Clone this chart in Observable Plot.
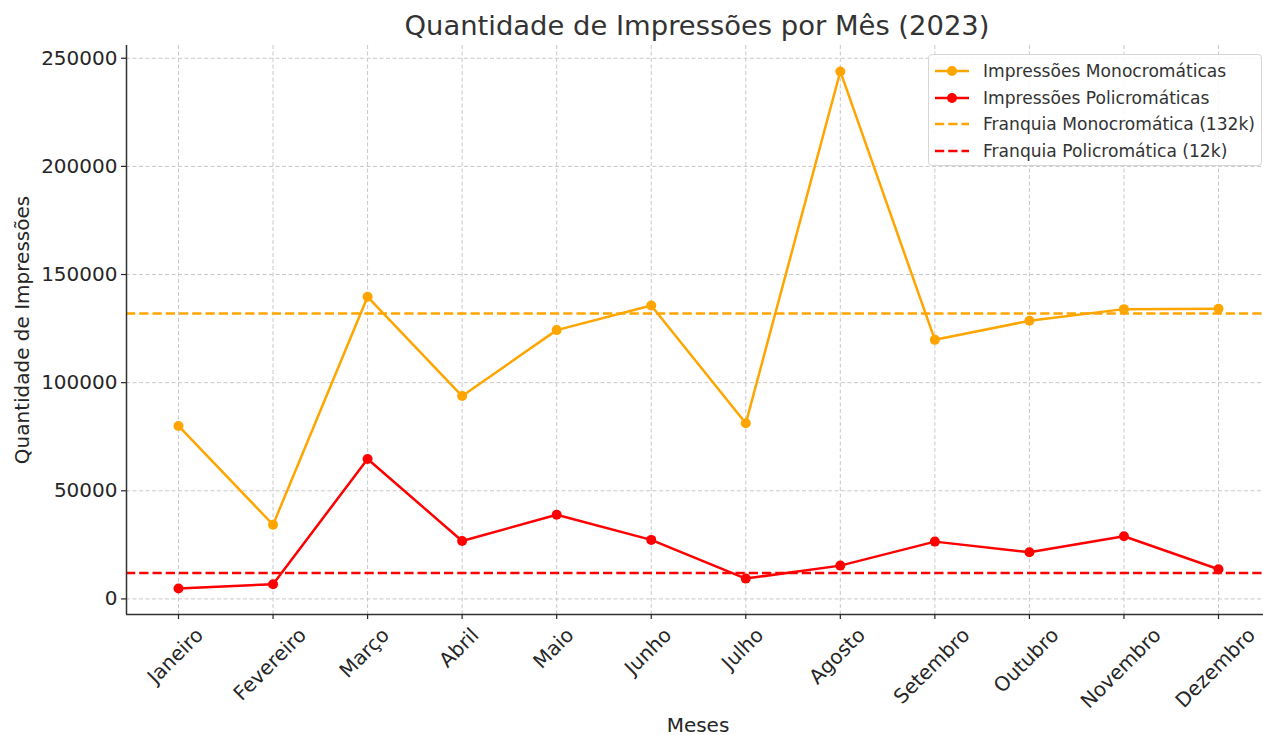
<!DOCTYPE html>
<html>
<head>
<meta charset="utf-8">
<script src="https://cdn.jsdelivr.net/npm/d3@7"></script>
<script src="https://cdn.jsdelivr.net/npm/@observablehq/plot@0.6"></script>
<style>
  html, body { margin: 0; padding: 0; background: white; overflow: hidden; }
  #wrap { position: relative; width: 1263px; height: 735px; font-family: "DejaVu Sans", sans-serif; }
  #title { position: absolute; left: 126px; width: 1142px; top: 8px; line-height: 36px; text-align: center; font-size: 27.4px; color: #333; }
  #chart { position: absolute; left: 0; top: 45px; }
  #legend { position: absolute; left: 928px; top: 54px; width: 332px; height: 110px; border: 1px solid #d6d6d6; border-radius: 4px; background: rgba(255,255,255,0.85); z-index: 2; }
  .row { position: absolute; left: 6px; height: 26px; display: flex; align-items: center; }
  .row span { margin-left: 14px; font-size: 17.1px; color: #333; white-space: nowrap; }
</style>
</head>
<body>
<div id="wrap">
  <div id="title"></div>
  <div id="chart"></div>
  <div id="legend"></div>
</div>
<script>
const titleText = "Quantidade de Impressões por Mês (2023)";
const months = ["Janeiro","Fevereiro","Março","Abril","Maio","Junho","Julho","Agosto","Setembro","Outubro","Novembro","Dezembro"];
const mono = [80000, 34300, 139700, 93800, 124300, 135700, 81200, 243900, 119800, 128600, 134000, 134200];
const poly = [4800, 6800, 64700, 26800, 38900, 27300, 9400, 15400, 26500, 21600, 29000, 13700];
const franquiaMono = 132000;
const franquiaPoly = 12000;
const yTicks = [0, 50000, 100000, 150000, 200000, 250000];
const seriesNames = ["Impressões Monocromáticas", "Impressões Policromáticas", "Franquia Monocromática (132k)", "Franquia Policromática (12k)"];
const colMono = "orange", colPoly = "red";
const xLabel = "Meses", yLabel = "Quantidade de Impressões";

document.getElementById("title").textContent = titleText;

const data = months.map((m, i) => ({i, month: m, mono: mono[i], poly: poly[i]}));
const idx = months.map((_, i) => i);

const yMin = -7200, yMax = 255900;
const xMin = -0.55, xMax = 11.55;

const canvas = document.createElement("canvas");
const ctx = canvas.getContext("2d");
ctx.font = "20px 'DejaVu Sans'";
const fs = 20, lh = 23.3;

const labelMarks = months.map((m, i) => {
  const w = ctx.measureText(m).width;
  const dy = 9 + (w + lh) * Math.SQRT1_2 / 2;
  return Plot.text([m], {x: () => i, frameAnchor: "bottom", dx: -3, dy, rotate: -45, fontSize: fs, textAnchor: "middle", lineAnchor: "middle"});
});

const grid = {stroke: "#c8c8c8", strokeWidth: 1, strokeDasharray: "4,2.5"};

const plot = Plot.plot({
  width: 1263,
  height: 690,
  marginLeft: 126,
  marginRight: 0,
  marginTop: 0,
  marginBottom: 121,
  style: {fontFamily: "DejaVu Sans", color: "#262626", background: "transparent", overflow: "visible"},
  x: {domain: [xMin, xMax], range: [126, 1270]},
  y: {domain: [yMin, yMax], range: [569, 0]},
  marks: [
    Plot.ruleX(idx, {x: d => d, ...grid}),
    Plot.ruleY(yTicks, {y: d => d, ...grid}),
    Plot.ruleY([franquiaMono], {y: d => d, stroke: colMono, strokeWidth: 2.5, strokeDasharray: "9.25,4"}),
    Plot.ruleY([franquiaPoly], {y: d => d, stroke: colPoly, strokeWidth: 2.5, strokeDasharray: "9.25,4"}),
    Plot.line(data, {x: "i", y: "mono", stroke: colMono, strokeWidth: 2.5}),
    Plot.dot(data, {x: "i", y: "mono", fill: colMono, r: 5}),
    Plot.line(data, {x: "i", y: "poly", stroke: colPoly, strokeWidth: 2.5}),
    Plot.dot(data, {x: "i", y: "poly", fill: colPoly, r: 5}),
    Plot.ruleX([xMin], {x: d => d, stroke: "#333", strokeWidth: 1.5}),
    Plot.ruleY([yMin], {y: d => d, stroke: "#333", strokeWidth: 1.5}),
    Plot.axisY(yTicks, {tickSize: 5, tickPadding: 4, fontSize: fs, label: null, tickFormat: d => String(d), strokeWidth: 1.2}),
    Plot.axisX(idx, {tickSize: 5, tickFormat: () => "", label: null, strokeWidth: 1.2}),
    ...labelMarks,
    Plot.text([yLabel], {frameAnchor: "left", dx: -104, rotate: -90, fontSize: fs, textAnchor: "middle", lineAnchor: "middle"}),
    Plot.text([xLabel], {frameAnchor: "bottom", dx: 3, dy: 111, fontSize: fs, textAnchor: "middle", lineAnchor: "middle"})
  ]
});
document.getElementById("chart").appendChild(plot);

// Legend
const legend = document.getElementById("legend");
const legendItems = [
  {name: seriesNames[0], color: colMono, dashed: false},
  {name: seriesNames[1], color: colPoly, dashed: false},
  {name: seriesNames[2], color: colMono, dashed: true},
  {name: seriesNames[3], color: colPoly, dashed: true}
];
legendItems.forEach((it, k) => {
  const row = document.createElement("div");
  row.className = "row";
  row.style.top = (3 + k * 26.6) + "px";
  const svg = `<svg width="34" height="14" style="overflow:visible">
    <line x1="0" x2="34" y1="7" y2="7" stroke="${it.color}" stroke-width="2.5" ${it.dashed ? 'stroke-dasharray="9.25,4"' : ''}/>
    ${it.dashed ? '' : `<circle cx="17" cy="7" r="5" fill="${it.color}"/>`}
  </svg>`;
  row.innerHTML = svg + `<span></span>`;
  row.querySelector("span").textContent = it.name;
  legend.appendChild(row);
});
</script>
</body>
</html>
